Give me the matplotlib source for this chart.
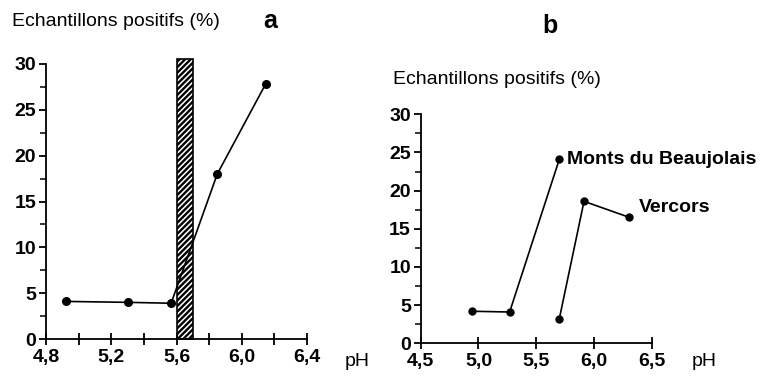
import matplotlib
matplotlib.use("Agg")
import matplotlib.pyplot as plt
from matplotlib.patches import Rectangle

plt.rcParams['font.family'] = ['Liberation Sans', 'DejaVu Sans']
plt.rcParams['hatch.linewidth'] = 1.7

# Panel a data
a_ph = [4.92, 5.30, 5.567, 5.85, 6.146]
a_pos = [4.1, 4.0, 3.9, 18.0, 27.8]
a_band = (5.6, 5.7)
a_xticks = [4.8, 5.0, 5.2, 5.4, 5.6, 5.8, 6.0, 6.2, 6.4]
a_xlabels = ["4,8", "", "5,2", "", "5,6", "", "6,0", "", "6,4"]
yticks = [0, 5, 10, 15, 20, 25, 30]
yminor = [2.5, 7.5, 12.5, 17.5, 22.5, 27.5]

# Panel b data
mb_ph = [4.94, 5.27, 5.70]
mb_pos = [4.2, 4.1, 24.1]
ve_ph = [5.70, 5.914, 6.306]
ve_pos = [3.2, 18.6, 16.5]
b_xticks = [4.5, 5.0, 5.5, 6.0, 6.5]
b_xlabels = ["4,5", "5,0", "5,5", "6,0", "6,5"]

fig = plt.figure(figsize=(7.71, 3.77), dpi=100)

def style(ax, xlim, xt, xl):
    ax.set_xlim(*xlim)
    ax.set_ylim(0, 30)
    for s in ['top', 'right']:
        ax.spines[s].set_visible(False)
    for s in ['left', 'bottom']:
        ax.spines[s].set_linewidth(1.3)
    ax.set_xticks(xt)
    ax.set_xticklabels(xl, fontweight='bold')
    ax.set_yticks(yticks)
    ax.set_yticklabels([str(v) for v in yticks], fontweight='bold')
    ax.set_yticks(yminor, minor=True)
    ax.tick_params(axis='x', direction='inout', length=8, width=1.3, labelsize=14, pad=3)
    ax.tick_params(axis='y', direction='out', length=5, width=1.3, labelsize=14, pad=2)
    ax.tick_params(axis='y', which='minor', direction='out', length=4, width=1.1)
    ax.set_facecolor('none')

# Panel a
axa = fig.add_axes([46/771, 1-339/377, (307-46)/771, (339-64)/377])
style(axa, (4.8, 6.4), a_xticks, a_xlabels)
axa.add_patch(Rectangle((a_band[0], 0), a_band[1]-a_band[0], 30.5, facecolor='white',
                        edgecolor='black', hatch='//////', linewidth=1.2, clip_on=False))
axa.plot(a_ph, a_pos, color='black', lw=1.2, marker='o', ms=5.5, zorder=3)
fig.text(12/771, 1-22/377, "Echantillons positifs (%)", fontsize=14, va='center', ha='left')
fig.text(270/771, 1-21/377, "a", fontsize=18, fontweight='bold', va='center', ha='center')
fig.text(345/771, 1-362/377, "pH", fontsize=14, va='center', ha='left')

# Panel b
axb = fig.add_axes([420.7/771, 1-343.3/377, (651.7-420.7)/771, (343.3-114.3)/377])
style(axb, (4.5, 6.5), b_xticks, b_xlabels)
axb.plot(mb_ph, mb_pos, color='black', lw=1.2, marker='o', ms=5, zorder=3)
axb.plot(ve_ph, ve_pos, color='black', lw=1.2, marker='o', ms=5, zorder=3)
axb.text(mb_ph[-1] + 0.07, mb_pos[-1], "Monts du Beaujolais", fontsize=14, fontweight='bold',
         va='center', ha='left')
axb.text(ve_ph[-1] + 0.08, ve_pos[-1] + 1.3, "Vercors", fontsize=14, fontweight='bold',
         va='center', ha='left')
fig.text(393/771, 1-80/377, "Echantillons positifs (%)", fontsize=14, va='center', ha='left')
fig.text(550/771, 1-26/377, "b", fontsize=18, fontweight='bold', va='center', ha='center')
fig.text(692/771, 1-362/377, "pH", fontsize=14, va='center', ha='left')

fig.savefig("out.png", dpi=100)
